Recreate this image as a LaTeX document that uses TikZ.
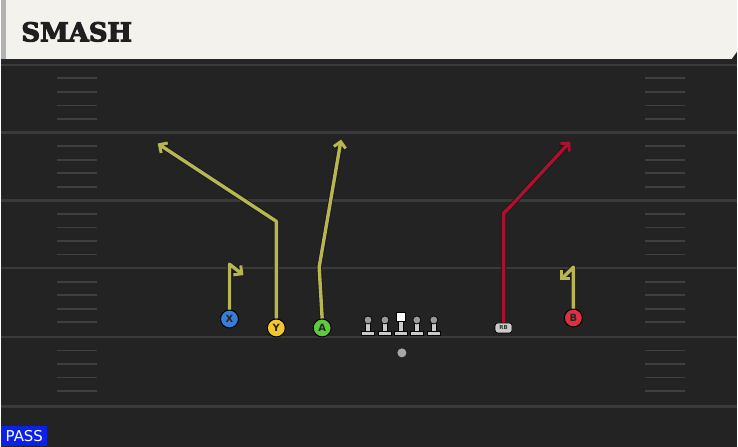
\documentclass[tikz,border=0pt]{standalone}
\usepackage{fontspec}
\newfontfamily\titlefont[FakeBold=4, BoldFeatures={FakeBold=4}]{DejaVu Serif}
\newfontfamily\labelfont{DejaVu Sans}
\usetikzlibrary{arrows.meta}

\definecolor{field}{HTML}{232323}
\definecolor{yardline}{HTML}{3A3A3A}
\definecolor{hashline}{HTML}{3F3F3F}
\definecolor{header}{HTML}{F4F2EC}
\definecolor{routeyellow}{HTML}{B8B652}
\definecolor{routered}{HTML}{A8122F}
\definecolor{xblue}{HTML}{3B7CD6}
\definecolor{yyellow}{HTML}{F4C62C}
\definecolor{agreen}{HTML}{5DCA3B}
\definecolor{bred}{HTML}{DF2F40}
\definecolor{passblue}{HTML}{0B22E6}
\definecolor{linegray}{HTML}{CACACA}

\tikzset{
  player/.style={circle, draw=black, line width=1pt, fill=#1, minimum size=18pt,
    inner sep=0pt, text=black!85, font=\labelfont\bfseries\fontsize{10}{10}\selectfont},
  route/.style={draw=#1, line width=3.4pt, line join=round,
    -{Straight Barb[length=6pt,width=12pt,line width=3pt]},
    preaction={draw=black!90, line width=5.2pt, line join=round,
    -{Straight Barb[length=6pt,width=12pt,line width=4.6pt]}}},
  lineman/.style={fill=linegray, draw=black, line width=0.7pt},
}

\begin{document}
\begin{tikzpicture}[x=1pt,y=-1pt]
  % field
  \fill[field] (0,0) rectangle (738,448);
  \foreach \yl in {65,133,201,269,338,408}
    \draw[yardline, line width=2.4pt] (0,\yl) -- (738,\yl);
  \foreach \yl in {65,133,201,269,338}
    \foreach \k in {1,...,4} {
      \draw[hashline, line width=1.8pt] (56,\yl+\k*13.6) -- (96,\yl+\k*13.6);
      \draw[hashline, line width=1.8pt] (646,\yl+\k*13.6) -- (686,\yl+\k*13.6);
    }

  % header
  \fill[black!85] (0,59) rectangle (738,62);
  \fill[header] (0,0) -- (738,0) -- (738,52) -- (733,59) -- (0,59) -- cycle;
  \fill[gray!60] (0,0) rectangle (5,59);
  \node[anchor=west, text=black!88, inner sep=0pt, font=\titlefont\bfseries\fontsize{26}{26}\selectfont] (title) at (20,32) {SMASH};

  % line
  \foreach \lx in {368,385,417,434} {
    \path[lineman] (\lx-2.5,322) rectangle (\lx+2.5,332);
    \path[lineman] (\lx-6.5,332) rectangle (\lx+6.5,336.5);
    \fill[gray!80, draw=black, line width=0.7pt] (\lx,321) circle (4);
  }
  \path[lineman] (398.5,321) rectangle (403.5,332);
  \path[lineman] (394.5,332) rectangle (407.5,336.5);
  \node[fill=white, draw=black, line width=0.7pt, minimum size=9pt, inner sep=0pt] (C) at (401,318) {};
  \node[circle, fill=gray!70, minimum size=9pt, inner sep=0pt] (QB) at (402,354) {};

  % players
  \node[player=xblue]   (X) at (229,320) {X};
  \node[player=yyellow] (Y) at (276,329) {Y};
  \node[player=agreen]  (A) at (322,329) {A};
  \node[player=bred]    (B) at (574,319) {B};
  \node[draw=black, fill=linegray, rounded corners=2.5pt, line width=0.8pt, minimum width=17pt,
    minimum height=10pt, inner sep=0pt, text=black!80, font=\labelfont\bfseries\fontsize{5.5}{5.5}\selectfont] (RB) at (504,329) {RB};

  % route points
  \coordinate (x1) at (229,265);
  \coordinate (x2) at (243,276);
  \coordinate (y1) at (276,222);
  \coordinate (y2) at (157,144);
  \coordinate (a1) at (319,268);
  \coordinate (a2) at (341,140);
  \coordinate (b1) at (574,268);
  \coordinate (b2) at (561,281);
  \coordinate (r1) at (504,214);
  \coordinate (r2) at (511,207);
  \coordinate (r3) at (571,142);

  % routes
  \path[route=routeyellow] (X.north) -- (x1) -- (x2);
  \path[route=routeyellow] (Y.north) -- (y1) -- (y2);
  \path[route=routeyellow] (A.north) -- (a1) -- (a2);
  \path[route=routeyellow] (B.north) -- (b1) -- (b2);
  \path[route=routered] (RB.north) -- (r1) -- (r2) -- (r3);

  % play type
  \node[anchor=south west, fill=passblue, text=white, inner sep=0pt, minimum height=20pt,
    minimum width=46pt, font=\labelfont\fontsize{15}{15}\selectfont] (pass) at (0,448) {PASS};
\end{tikzpicture}
\end{document}
